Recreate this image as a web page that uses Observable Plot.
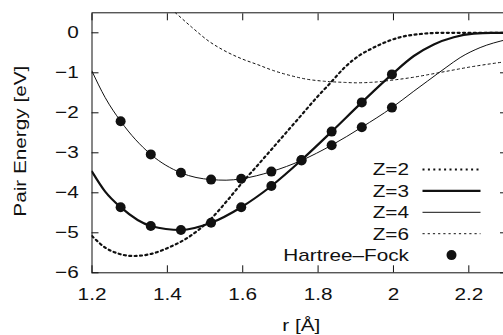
<!DOCTYPE html>
<html><head><meta charset="utf-8">
<script src="https://cdn.jsdelivr.net/npm/d3@7"></script>
<script src="https://cdn.jsdelivr.net/npm/@observablehq/plot@0.6"></script>
<style>
html,body{margin:0;padding:0;background:#fff;overflow:hidden}
#chart{position:relative;width:503px;height:335px}
</style></head><body><div id="chart"></div>
<script>
// ---- data ----
const xTicks = [1.2, 1.4, 1.6, 1.8, 2, 2.2];
const yTicks = [-6, -5, -4, -3, -2, -1, 0];
const xLabel = "r [Å]";
const yLabel = "Pair Energy [eV]";
const seriesNames = ["Z=2", "Z=3", "Z=4", "Z=6"];
const hfLabel = "Hartree–Fock";

const z2x = [1.2, 1.235, 1.27, 1.31, 1.36, 1.403, 1.456, 1.516, 1.562, 1.6, 1.65, 1.7, 1.75, 1.8, 1.833, 1.87, 1.912, 1.939, 1.965, 2.018, 2.071, 2.13, 2.3];
const z2y = [-5.08, -5.37, -5.52, -5.58, -5.52, -5.37, -5.11, -4.65, -4.16, -3.73, -3.2, -2.66, -2.12, -1.58, -1.25, -0.87, -0.55, -0.41, -0.29, -0.11, -0.03, 0, 0];

const z3x = [1.2, 1.235, 1.276, 1.356, 1.436, 1.516, 1.596, 1.676, 1.756, 1.836, 1.916, 1.996, 2.054, 2.107, 2.16, 2.213, 2.26, 2.3];
const z3y = [-3.47, -3.97, -4.36, -4.83, -4.93, -4.75, -4.36, -3.83, -3.18, -2.47, -1.74, -1.04, -0.58, -0.29, -0.11, -0.02, 0, 0];

const z4x = [1.2, 1.235, 1.276, 1.356, 1.436, 1.516, 1.556, 1.596, 1.676, 1.756, 1.836, 1.916, 1.996, 2.054, 2.09, 2.142, 2.177, 2.23, 2.3];
const z4y = [-0.96, -1.62, -2.21, -3.04, -3.5, -3.67, -3.685, -3.65, -3.47, -3.19, -2.81, -2.36, -1.87, -1.46, -1.21, -0.85, -0.62, -0.37, -0.17];

const z6x = [1.4, 1.4215, 1.466, 1.51, 1.55, 1.6, 1.638, 1.68, 1.727, 1.77, 1.815, 1.87, 1.9, 1.939, 2.0, 2.054, 2.09, 2.142, 2.2, 2.3];
const z6y = [0.68, 0.5, 0.13, -0.21, -0.44, -0.66, -0.79, -0.94, -1.07, -1.16, -1.21, -1.24, -1.25, -1.24, -1.18, -1.11, -1.05, -0.96, -0.86, -0.72];

const hfX  = [1.276, 1.356, 1.436, 1.516, 1.596, 1.676, 1.756, 1.836, 1.916, 1.996];
const hfZ3 = [-4.36, -4.83, -4.93, -4.75, -4.36, -3.83, -3.18, -2.47, -1.74, -1.04];
const hfZ4 = [-2.21, -3.04, -3.5, -3.67, -3.65, -3.47, -3.19, -2.81, -2.36, -1.87];

// ---- build tables ----
const rows = (xs, ys, name) => xs.map((x, i) => ({x, y: ys[i], name}));
const z2 = rows(z2x, z2y, seriesNames[0]);
const z3 = rows(z3x, z3y, seriesNames[1]);
const z4 = rows(z4x, z4y, seriesNames[2]);
const z6 = rows(z6x, z6y, seriesNames[3]);
const hf = [...rows(hfX, hfZ3, "Z=3"), ...rows(hfX, hfZ4, "Z=4")];

const font = "'Liberation Sans', Arial, Helvetica, sans-serif";
const ink = "#111";
const stretch = 1.22;
const fmt = d3.format("~g");

const plot = Plot.plot({
  width: 503, height: 335,
  marginLeft: 91.5, marginRight: -3, marginTop: 12.3, marginBottom: 62.7,
  style: {fontFamily: font, fontSize: "17px", color: ink, background: "white", overflow: "visible"},
  x: {domain: [1.2, 2.3]},
  y: {domain: [-6, 0.5]},
  marks: [
    Plot.line(z6, {x: "x", y: "y", stroke: ink, strokeWidth: 1, strokeDasharray: "2.2,3", curve: "monotone-x", clip: true}),
    Plot.line(z2, {x: "x", y: "y", stroke: ink, strokeWidth: 2.2, strokeDasharray: "2,3.4", curve: "monotone-x", clip: true}),
    Plot.line(z4, {x: "x", y: "y", stroke: ink, strokeWidth: 1, curve: "monotone-x", clip: true}),
    Plot.line(z3, {x: "x", y: "y", stroke: ink, strokeWidth: 2.2, curve: "monotone-x", clip: true}),
    Plot.dot(hf, {x: "x", y: "y", r: 5, fill: ink, stroke: "none"}),
    Plot.frame({stroke: ink, strokeWidth: 1}),
    Plot.axisX(xTicks, {anchor: "bottom", tickSize: -7, fill: "none", label: null}),
    Plot.axisX(xTicks, {anchor: "top", tickSize: -7, fill: "none", label: null}),
    Plot.axisY(yTicks, {anchor: "left", tickSize: -7, fill: "none", label: null}),
    Plot.axisY(yTicks, {anchor: "right", tickSize: -7, fill: "none", label: null}),
    Plot.axisX(xTicks, {anchor: "bottom", tickSize: 0, tickPadding: 15.4, label: null, fill: ink, tickFormat: fmt}),
    Plot.axisY(yTicks, {anchor: "left", tickSize: 0, tickPadding: 13.3, label: null, fill: ink, tickFormat: fmt}),
    Plot.text([xLabel], {frameAnchor: "bottom", dx: 2, dy: 53, lineAnchor: "middle", textAnchor: "middle", fill: ink}),
    Plot.text([yLabel], {frameAnchor: "left", dx: -71.5, dy: -1.6, rotate: -90, lineAnchor: "middle", textAnchor: "middle", fill: ink})
  ]
});

// legend inside the plot (lower right)
const svg = d3.select(plot);
const lg = svg.append("g").attr("font-family", font).attr("font-size", 17).attr("fill", ink);
const legendItems = [
  {label: seriesNames[0], w: 2.2, dash: "2,3.4"},
  {label: seriesNames[1], w: 2.2, dash: null},
  {label: seriesNames[2], w: 1, dash: null},
  {label: seriesNames[3], w: 1, dash: "2.2,3"},
  {label: hfLabel, dot: true}
];
legendItems.forEach((d, i) => {
  const cy = 169.5 + 21.4 * i;
  lg.append("text").attr("text-anchor", "end").attr("dy", "0.35em")
    .attr("x", 409).attr("y", cy).text(d.label);
  if (d.dot) {
    lg.append("circle").attr("cx", 451.5).attr("cy", cy).attr("r", 5).attr("fill", ink);
  } else {
    const l = lg.append("line").attr("x1", 422.5).attr("x2", 480.5).attr("y1", cy).attr("y2", cy)
      .attr("stroke", ink).attr("stroke-width", d.w);
    if (d.dash) l.attr("stroke-dasharray", d.dash);
  }
});

document.getElementById("chart").appendChild(plot);

// widen glyphs horizontally like the reference's typeface
plot.querySelectorAll("text").forEach(t => {
  const len = t.getComputedTextLength();
  if (len > 0) {
    t.setAttribute("textLength", (len * stretch).toFixed(2));
    t.setAttribute("lengthAdjust", "spacingAndGlyphs");
  }
});
</script>
</body></html>
